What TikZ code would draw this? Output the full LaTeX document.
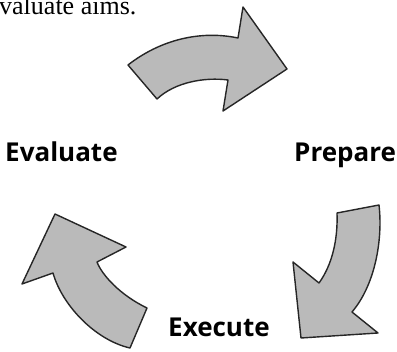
\documentclass[tikz,border=0pt]{standalone}
\usepackage{fontspec}
\setmainfont{Liberation Serif}
\newfontfamily\labelfont{Open Sans}
\tikzset{
  cyclearrow/.style={fill=black!27, draw=black!85, line width=1.4pt, line join=round},
  steplabel/.style={font=\labelfont\bfseries\fontsize{26}{30}\selectfont, inner sep=0pt, anchor=base west},
  cuttext/.style={font=\fontsize{26}{30}\selectfont, inner sep=0pt, anchor=base west}
}
\begin{document}
\begin{tikzpicture}[x=1pt,y=-1pt]
\useasboundingbox (0,0) rectangle (397,352);
\clip (0,0) rectangle (397,352);
\node[cuttext] (cut) at (-1,15) {valuate aims.};
% top arrow
\draw[cyclearrow] (128,65) .. controls (160,40) and (200,30) .. (238,38)
  -- (243,7) -- (287,69) -- (223,111) -- (228,80)
  .. controls (205,77) and (175,82) .. (157,99) -- cycle;
% right arrow
\draw[cyclearrow] (337,213) -- (379,205) .. controls (383,240) and (375,285) .. (352,312)
  -- (378,333) -- (301,338) -- (293,262) -- (319,283)
  .. controls (332,265) and (338,240) .. (337,213) -- cycle;
% left arrow
\draw[cyclearrow] (130,348) -- (147,308) .. controls (120,295) and (102,275) .. (97,262)
  -- (126,247) -- (55,214) -- (22,284) -- (53,273)
  .. controls (62,305) and (95,340) .. (130,348) -- cycle;
\node[steplabel] (evaluate) at (5,162) {Evaluate};
\node[steplabel] (prepare) at (294,162) {Prepare};
\node[steplabel] (execute) at (168,337) {Execute};
\end{tikzpicture}
\end{document}
